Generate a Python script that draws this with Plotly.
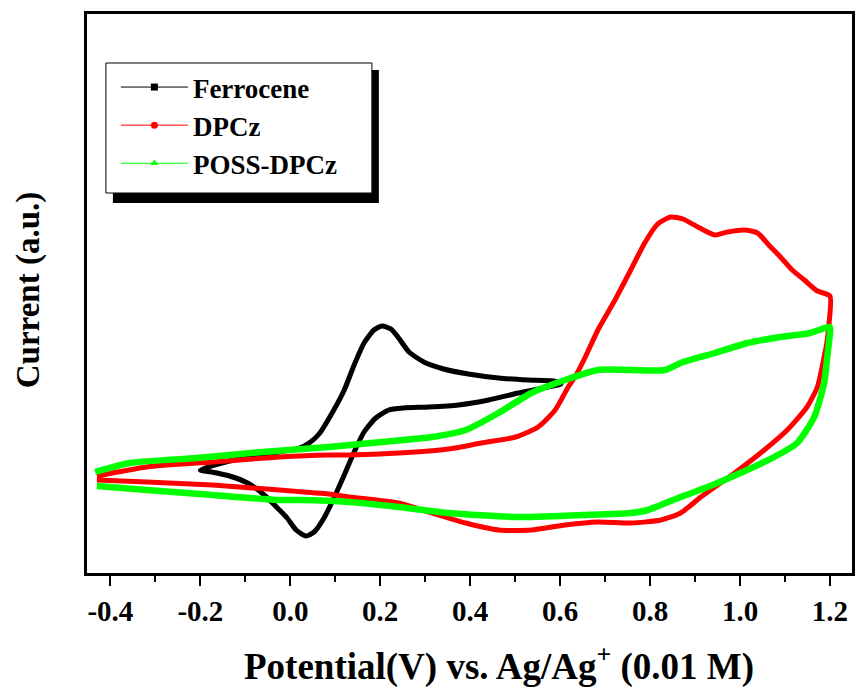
import plotly.graph_objects as go

# ---- data (potential in V, current in arbitrary units) ----
ferrocene_v = [-0.20, -0.135, -0.069, -0.013, 0.020, 0.042, 0.064, 0.093, 0.120, 0.142, 0.164, 0.186,
               0.204, 0.224, 0.241, 0.264, 0.297, 0.341, 0.396, 0.463, 0.529, 0.585, 0.602,
               0.563, 0.507, 0.441, 0.374, 0.308, 0.252, 0.219, 0.190, 0.164, 0.142, 0.120, 0.097,
               0.075, 0.053, 0.035, 0.013, -0.007, -0.024, -0.058, -0.095, -0.135, -0.175, -0.20]
ferrocene_i = [3.0, 3.9, 4.5, 4.9, 5.2, 5.7, 6.6, 8.7, 11.0, 13.5, 15.7, 17.0,
               17.4, 17.1, 16.2, 14.8, 13.8, 13.1, 12.6, 12.2, 12.0, 11.9, 11.6,
               11.2, 10.7, 10.0, 9.5, 9.3, 9.2, 9.0, 8.2, 6.8, 4.8, 2.5, 0.2,
               -1.8, -3.2, -3.6, -3.0, -1.8, -1.0, 0.5, 1.7, 2.4, 2.8, 3.0]

dpcz_v = [-0.430, -0.319, -0.173, -0.024, 0.086, 0.131, 0.241, 0.352, 0.425, 0.501, 0.551, 0.589,
          0.618, 0.633, 0.656, 0.684, 0.722, 0.757, 0.788, 0.817, 0.846, 0.873, 0.906, 0.944,
          0.972, 1.010, 1.039, 1.064, 1.090, 1.116, 1.143, 1.172, 1.200,
          1.198, 1.194, 1.187, 1.172, 1.149, 1.105, 1.054, 0.988, 0.913, 0.868, 0.824, 0.757,
          0.684, 0.611, 0.536, 0.463, 0.390, 0.315, 0.241, 0.131, 0.086, -0.024, -0.173, -0.319, -0.430]
dpcz_i = [2.4, 3.3, 3.8, 4.3, 4.5, 4.5, 4.7, 5.1, 5.7, 6.3, 7.3, 9.0,
          11.3, 12.3, 14.3, 17.0, 20.0, 23.0, 25.7, 27.6, 28.3, 28.1, 27.3, 26.5,
          26.8, 27.0, 26.7, 25.5, 24.3, 23.0, 22.0, 20.9, 20.4,
          17.7, 16.0, 14.3, 11.3, 9.3, 7.0, 5.0, 2.7, 0.3, -1.3, -2.0, -2.3,
          -2.2, -2.5, -3.0, -3.0, -2.3, -1.3, -0.3, 0.3, 0.6, 1.0, 1.5, 1.8, 2.0]

poss_v = [-0.434, -0.357, -0.208, -0.062, 0.086, 0.204, 0.315, 0.390, 0.463, 0.536, 0.611, 0.684,
          0.757, 0.833, 0.868, 0.944, 1.017, 1.090, 1.156, 1.200,
          1.200, 1.194, 1.187, 1.165, 1.127, 1.076, 1.001, 0.928, 0.868, 0.795, 0.757, 0.647,
          0.501, 0.352, 0.241, 0.131, 0.020, -0.024, -0.173, -0.319, -0.430]
poss_i = [2.8, 3.7, 4.2, 4.8, 5.3, 5.8, 6.3, 7.0, 8.7, 10.7, 12.0, 13.0,
          13.0, 13.0, 13.7, 14.7, 15.7, 16.3, 16.7, 17.3,
          16.7, 14.3, 11.7, 8.3, 5.7, 4.3, 2.7, 1.3, 0.3, -1.0, -1.3, -1.5,
          -1.7, -1.3, -0.7, -0.2, 0.0, 0.0, 0.5, 1.0, 1.4]

series_names = ["Ferrocene", "DPCz", "POSS-DPCz"]
tick_vals = [-0.4, -0.2, 0.0, 0.2, 0.4, 0.6, 0.8, 1.0, 1.2]
tick_text = ["-0.4", "-0.2", "0.0", "0.2", "0.4", "0.6", "0.8", "1.0", "1.2"]

FONT = "Liberation Serif"
W, H = 857, 689
L, R, T, B = 87, 2, 14, 116
pw, ph = W - L - R, H - T - B

def px(x):
    return (x - L) / pw

def py(y):
    return (H - B - y) / ph

colors = ["#000000", "#ff0000", "#00ff00"]
widths = [5, 5, 6.5]
symbols = ["square", "circle", "triangle-up"]
data = [(ferrocene_v, ferrocene_i), (dpcz_v, dpcz_i), (poss_v, poss_i)]

fig = go.Figure()
for (xv, yv), c, w in zip(data, colors, widths):
    fig.add_trace(go.Scatter(x=xv, y=yv, mode="lines", showlegend=False,
                             line=dict(color=c, width=w, shape="spline", smoothing=0.6),
                             hoverinfo="skip"))
for name, c, s in zip(series_names, colors, symbols):
    fig.add_trace(go.Scatter(x=[None], y=[None], mode="lines+markers", name=name,
                             line=dict(color=c, width=1),
                             marker=dict(symbol=s, size=7, color=c)))

# legend frame with drop shadow
fig.add_shape(type="rect", xref="paper", yref="paper",
              x0=px(113), x1=px(380), y0=py(203), y1=py(70),
              fillcolor="black", line=dict(width=0), layer="above")
fig.add_shape(type="rect", xref="paper", yref="paper",
              x0=px(106), x1=px(373), y0=py(193), y1=py(63),
              fillcolor="white", line=dict(color="black", width=1), layer="above")

fig.update_layout(
    width=W, height=H,
    margin=dict(l=L, r=R, t=T, b=B),
    paper_bgcolor="white", plot_bgcolor="white",
    font=dict(family=FONT, color="black"),
    legend=dict(x=px(116), y=py(63), xanchor="left", yanchor="top",
                bgcolor="rgba(0,0,0,0)", borderwidth=0,
                font=dict(family=FONT, size=27, color="black", weight="bold"),
                itemwidth=67, tracegroupgap=0),
    xaxis=dict(range=[-0.452, 1.249], tickvals=tick_vals, ticktext=tick_text,
               ticks="outside", ticklen=10, tickwidth=2, tickcolor="black",
               minor=dict(dtick=0.1, tick0=0, ticks="outside", ticklen=6, tickwidth=2, tickcolor="black"),
               showline=True, linewidth=3, linecolor="black", mirror=True,
               showgrid=False, zeroline=False,
               tickfont=dict(family=FONT, size=29, color="black", weight="bold")),
    yaxis=dict(range=[-7.3, 48.6], showticklabels=False, ticks="",
               showline=True, linewidth=3, linecolor="black", mirror=True,
               showgrid=False, zeroline=False),
    annotations=[
        dict(text="Potential(V) vs. Ag/Ag<sup>+</sup> (0.01 M)", xref="paper", yref="paper",
             x=px(501), y=py(664), xanchor="center", yanchor="middle", showarrow=False,
             font=dict(family=FONT, size=37, color="black", weight="bold")),
        dict(text="Current (a.u.)", xref="paper", yref="paper",
             x=px(28), y=py(290), xanchor="center", yanchor="middle", showarrow=False,
             textangle=-90,
             font=dict(family=FONT, size=33, color="black", weight="bold")),
    ],
)

fig.write_html("out.html", config={"displayModeBar": False},
               post_script="document.body.style.margin='0';")
